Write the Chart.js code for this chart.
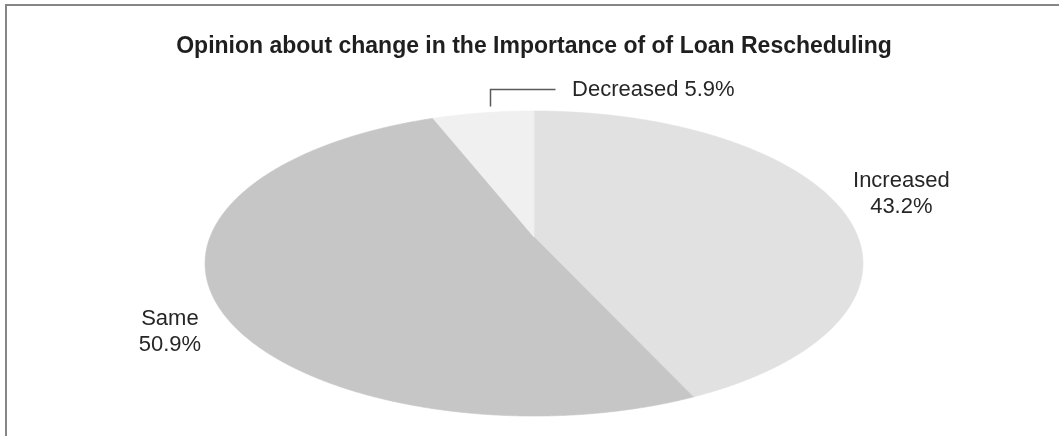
<!DOCTYPE html>
<html lang="en">
<head>
  <meta charset="UTF-8">
  <title>Loan Rescheduling Opinion</title>
  <script src="https://cdn.jsdelivr.net/npm/chart.js"></script>
  <style>
    * { margin: 0; padding: 0; box-sizing: border-box; }
    html, body { width: 1059px; height: 436px; overflow: hidden; background: #fff; }
    .frame {
      position: absolute;
      left: 5px; top: 4px;
      width: 1100px; height: 500px;
      border-top: 2px solid #868686;
      border-left: 2px solid #868686;
    }
    #pieChart { position: absolute; left: 0; top: 0; }
  </style>
</head>
<body>
  <div class="frame"></div>
  <canvas id="pieChart" width="1059" height="436"></canvas>

  <script>
    const categories = ['Increased', 'Same', 'Decreased'];
    const shares = [43.2, 50.9, 5.9];
    const sliceColors = ['#e1e1e1', '#c6c6c6', '#f0f0f0'];

    // perspective tilt of the pie disc (relative to the library's radius)
    const tilt = { sx: 2.571, sy: 1.174, k: 0.1738 };

    // label placement relative to the rim point at each slice's mid angle
    const labelStyle = [
      { dx: 62, dy: -20, align: 'center' },
      { dx: -44, dy: 26, align: 'center' },
      { dx: 89, dy: -17, align: 'left', leader: [[7, -7], [7, -24], [72, -24]] }
    ];

    function project(arc, angle, r) {
      const u = Math.cos(angle) * r;
      const v = -Math.sin(angle) * r;
      const d = 1 + tilt.k * v;
      return {
        x: arc.x + arc.outerRadius * tilt.sx * u / d,
        y: arc.y - arc.outerRadius * tilt.sy * v / d
      };
    }

    const tiltedPie = {
      id: 'tiltedPie',
      beforeDatasetsDraw(chart) {
        const ctx = chart.ctx;
        const meta = chart.getDatasetMeta(0);
        meta.data.forEach((el, i) => {
          const arc = el.getProps(['x', 'y', 'startAngle', 'endAngle', 'outerRadius'], true);
          const steps = Math.max(8, Math.ceil((arc.endAngle - arc.startAngle) / 0.005));
          ctx.save();
          ctx.beginPath();
          ctx.moveTo(arc.x, arc.y);
          for (let s = 0; s <= steps; s++) {
            const a = arc.startAngle + (arc.endAngle - arc.startAngle) * s / steps;
            const p = project(arc, a, 1);
            ctx.lineTo(p.x, p.y);
          }
          ctx.closePath();
          ctx.fillStyle = sliceColors[i];
          ctx.strokeStyle = sliceColors[i];
          ctx.lineWidth = 0.6;
          ctx.fill();
          ctx.stroke();
          ctx.restore();
        });
        return false;
      },
      // labels go in afterDraw: returning false above skips afterDatasetsDraw
      afterDraw(chart) {
        const ctx = chart.ctx;
        const meta = chart.getDatasetMeta(0);
        ctx.save();
        ctx.fillStyle = '#262626';
        ctx.font = '22px "Liberation Sans", Arial, sans-serif';
        ctx.textBaseline = 'alphabetic';
        meta.data.forEach((el, i) => {
          const arc = el.getProps(['x', 'y', 'startAngle', 'endAngle', 'outerRadius'], true);
          const mid = (arc.startAngle + arc.endAngle) / 2;
          const rim = project(arc, mid, 1);
          const st = labelStyle[i];
          const pct = shares[i].toFixed(1) + '%';
          if (st.leader) {
            ctx.strokeStyle = '#5a5a5a';
            ctx.lineWidth = 1.5;
            ctx.beginPath();
            st.leader.forEach((p, j) => {
              const px = Math.round(rim.x + p[0]) + 0.5;
              const py = Math.round(rim.y + p[1]) + 0.5;
              if (j === 0) ctx.moveTo(px, py); else ctx.lineTo(px, py);
            });
            ctx.stroke();
            ctx.textAlign = st.align;
            ctx.fillText(categories[i] + ' ' + pct, rim.x + st.dx, rim.y + st.dy);
          } else {
            ctx.textAlign = st.align;
            ctx.fillText(categories[i], rim.x + st.dx, rim.y + st.dy);
            ctx.fillText(pct, rim.x + st.dx, rim.y + st.dy + 26.5);
          }
        });
        ctx.restore();
      }
    };

    new Chart(document.getElementById('pieChart'), {
      type: 'pie',
      data: {
        labels: categories,
        datasets: [{
          data: shares,
          backgroundColor: sliceColors,
          borderWidth: 0,
          hoverOffset: 0
        }]
      },
      options: {
        responsive: false,
        animation: false,
        events: [],
        layout: { padding: { top: 0, bottom: 73, left: 9, right: 0 } },
        plugins: {
          legend: { display: false },
          tooltip: { enabled: false },
          title: {
            display: true,
            text: 'Opinion about change in the Importance of of Loan Rescheduling',
            color: '#1f1f1f',
            font: { family: '"Liberation Sans", Arial, sans-serif', size: 23, weight: 'bold', lineHeight: 1.2 },
            padding: { top: 33.2, bottom: 50.2 }
          }
        }
      },
      plugins: [tiltedPie]
    });
  </script>
</body>
</html>
